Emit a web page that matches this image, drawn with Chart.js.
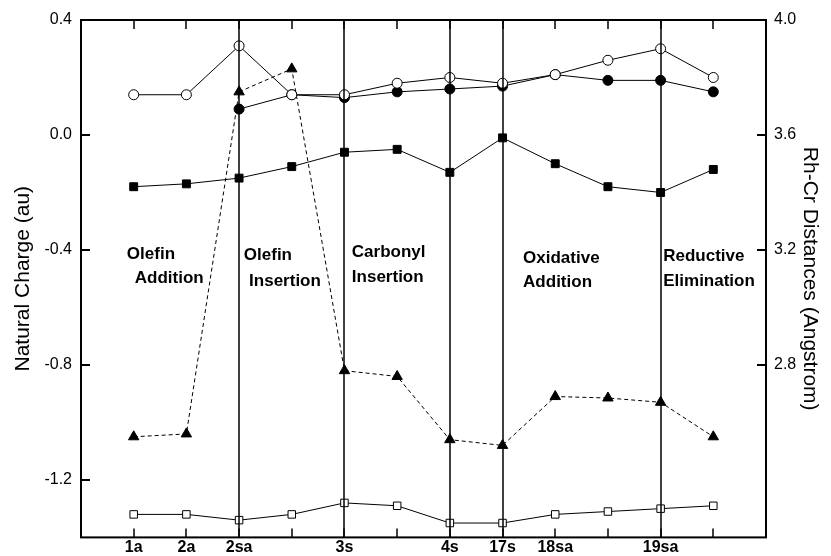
<!DOCTYPE html>
<html><head><meta charset="utf-8">
<script src="https://cdn.jsdelivr.net/npm/chart.js@4/dist/chart.umd.min.js"></script>
<style>html,body{margin:0;padding:0;background:#fff;}#wrap{width:831px;height:556px;}</style>
</head><body><div id="wrap"><canvas id="c" width="831" height="556"></canvas></div>
<script>
// ---- data ----
const categories = ['1a','2a','2sa','','3s','','4s','17s','18sa','','19sa',''];
const openCircles   = [0.14, 0.14, 0.31, 0.14, 0.14, 0.18, 0.20, 0.18, 0.21, 0.26, 0.30, 0.20];
const filledCircles = [null, null, 0.09, 0.14, 0.13, 0.15, 0.16, 0.17, 0.21, 0.19, 0.19, 0.15];
const filledSquares = [-0.18, -0.17, -0.15, -0.11, -0.06, -0.05, -0.13, -0.01, -0.10, -0.18, -0.20, -0.12];
const openSquares   = [-1.32, -1.32, -1.34, -1.32, -1.28, -1.29, -1.35, -1.35, -1.32, -1.31, -1.30, -1.29];
const rhCrDistance  = [2.55, 2.56, 3.75, 3.83, 2.78, 2.76, 2.54, 2.52, 2.69, 2.685, 2.67, 2.55];
const chargeTicks   = [-1.2, -0.8, -0.4, 0.0, 0.4];
const distanceTicks = [2.8, 3.2, 3.6, 4.0];
const phaseLines    = ['2sa','3s','4s','17s','19sa'];
const phaseLabels = [
  {lines:['Olefin','Addition'], x:[0.87,1.02], y:[-0.415,-0.50]},
  {lines:['Olefin','Insertion'], x:[3.09,3.19], y:[-0.42,-0.51]},
  {lines:['Carbonyl','Insertion'], x:[5.14,5.14], y:[-0.408,-0.494]},
  {lines:['Oxidative','Addition'], x:[8.39,8.39], y:[-0.428,-0.511]},
  {lines:['Reductive','Elimination'], x:[11.05,11.05], y:[-0.421,-0.508]}
];

const FONT = "'Liberation Sans', Arial, Helvetica, sans-serif";
const pts = arr => arr.map((v,i)=>({x:i+1, y:v}));

const decor = {
  id:'decor',
  afterDatasetsDraw(chart){
    const ctx = chart.ctx, a = chart.chartArea;
    const xs = chart.scales.x, yl = chart.scales.y, yr = chart.scales.y2;
    ctx.save();
    ctx.strokeStyle = '#000';
    ctx.lineWidth = 1.5;
    phaseLines.forEach(lbl=>{
      const px = Math.round(xs.getPixelForValue(categories.indexOf(lbl)+1));
      ctx.beginPath(); ctx.moveTo(px, a.top); ctx.lineTo(px, a.bottom); ctx.stroke();
    });
    ctx.lineWidth = 1.5;
    categories.forEach((c,i)=>{
      const px = Math.round(xs.getPixelForValue(i+1));
      ctx.beginPath(); ctx.moveTo(px, a.top); ctx.lineTo(px, a.top+9);
      ctx.moveTo(px, a.bottom); ctx.lineTo(px, a.bottom-9); ctx.stroke();
    });
    ctx.lineWidth = 2;
    chargeTicks.forEach(v=>{
      const py = Math.round(yl.getPixelForValue(v));
      ctx.beginPath(); ctx.moveTo(a.left, py); ctx.lineTo(a.left+9, py); ctx.stroke();
    });
    distanceTicks.forEach(v=>{
      const py = Math.round(yr.getPixelForValue(v));
      ctx.beginPath(); ctx.moveTo(a.right, py); ctx.lineTo(a.right-9, py); ctx.stroke();
    });
    ctx.lineWidth = 2;
    ctx.strokeRect(a.left, a.top, a.right-a.left, a.bottom-a.top);
    ctx.fillStyle = '#000';
    ctx.font = 'bold 17px ' + FONT;
    ctx.textAlign = 'left'; ctx.textBaseline = 'middle';
    phaseLabels.forEach(p=>{
      p.lines.forEach((t,k)=>{
        ctx.fillText(t, xs.getPixelForValue(p.x[k]), yl.getPixelForValue(p.y[k]));
      });
    });
    ctx.restore();
  }
};

new Chart(document.getElementById('c'), {
  type:'line',
  data:{datasets:[
    {label:'open circles', data:pts(openCircles), yAxisID:'y', order:0,
     borderColor:'#000', borderWidth:1, pointStyle:'circle', pointRadius:5,
     pointBackgroundColor:'#fff', pointBorderColor:'#000', pointBorderWidth:1},
    {label:'filled circles', data:pts(filledCircles), yAxisID:'y', order:1,
     borderColor:'#000', borderWidth:1, pointStyle:'circle', pointRadius:5,
     pointBackgroundColor:'#000', pointBorderColor:'#000', pointBorderWidth:1},
    {label:'filled squares', data:pts(filledSquares), yAxisID:'y', order:2,
     borderColor:'#000', borderWidth:1, pointStyle:'rect', pointRadius:5.6,
     pointBackgroundColor:'#000', pointBorderColor:'#000', pointBorderWidth:1},
    {label:'open squares', data:pts(openSquares), yAxisID:'y', order:3,
     borderColor:'#000', borderWidth:1, pointStyle:'rect', pointRadius:5.3,
     pointBackgroundColor:'#fff', pointBorderColor:'#000', pointBorderWidth:1},
    {label:'Rh-Cr distance', data:pts(rhCrDistance), yAxisID:'y2', order:4,
     borderColor:'#000', borderWidth:1, borderDash:[4,3], pointStyle:'triangle', pointRadius:6,
     pointBackgroundColor:'#000', pointBorderColor:'#000', pointBorderWidth:1}
  ]},
  options:{
    responsive:false, animation:false, devicePixelRatio:1,
    layout:{padding:{top:20,left:0,right:0,bottom:0}},
    plugins:{legend:{display:false}, tooltip:{enabled:false}},
    elements:{line:{tension:0}},
    scales:{
      x:{type:'linear', position:'bottom', min:0, max:13,
        afterBuildTicks:s=>{s.ticks = categories.map((c,i)=>({value:i+1}));},
        afterFit:s=>{s.height = 18;},
        grid:{display:false, drawTicks:false}, border:{display:false},
        ticks:{autoSkip:false, maxRotation:0, padding:1, color:'#000',
          font:{family:FONT, size:16, weight:'bold'},
          callback:v=>categories[v-1]||''}},
      y:{type:'linear', position:'left', min:-1.4, max:0.4,
        afterBuildTicks:s=>{s.ticks = chargeTicks.map(v=>({value:v}));},
        afterFit:s=>{s.width = 81;},
        grid:{display:false, drawTicks:false}, border:{display:false},
        ticks:{padding:9, color:'#000', font:{family:FONT, size:16},
          callback:v=>Number(v).toFixed(1)},
        title:{display:true, text:'Natural Charge (au)', color:'#000',
          font:{family:FONT, size:21}, padding:{top:11,bottom:0}}},
      y2:{type:'linear', position:'right', min:2.2, max:4.0,
        afterBuildTicks:s=>{s.ticks = distanceTicks.map(v=>({value:v}));},
        afterFit:s=>{s.width = 65;},
        grid:{display:false, drawTicks:false}, border:{display:false},
        ticks:{padding:8, color:'#000', font:{family:FONT, size:16},
          callback:v=>Number(v).toFixed(1)},
        title:{display:true, text:'Rh-Cr Distances (Angstrom)', color:'#000',
          font:{family:FONT, size:21}, padding:{top:9,bottom:0}}}
    }
  },
  plugins:[decor]
});
</script></body></html>
